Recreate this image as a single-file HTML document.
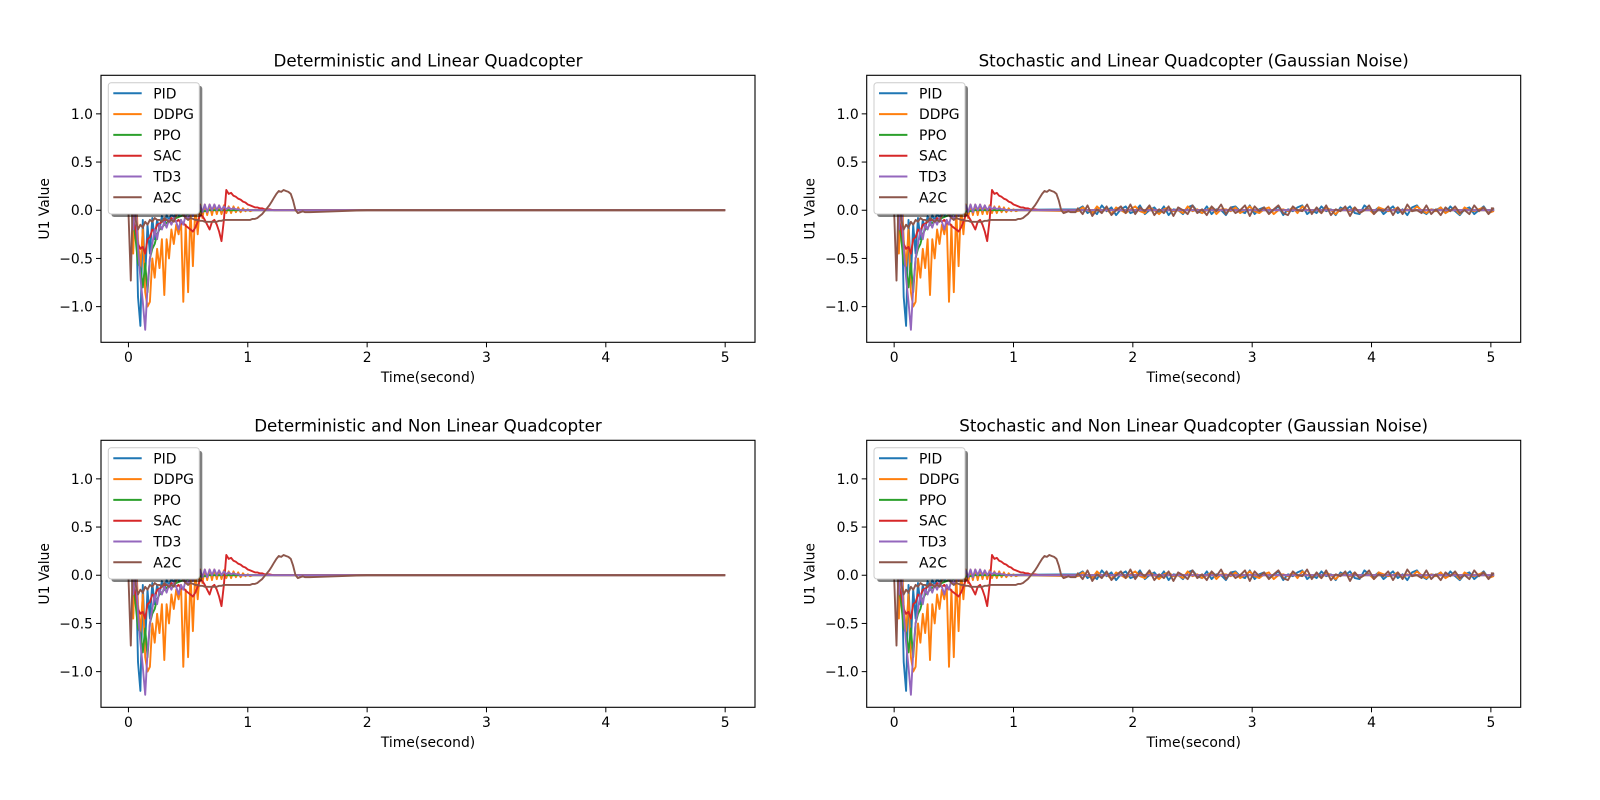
<!DOCTYPE html>
<html><head><meta charset="utf-8"><title>U1 Value comparison</title>
<style>html,body{margin:0;padding:0;background:#fff;}svg{display:block;font-family:"DejaVu Sans","Liberation Sans",sans-serif;}</style>
</head><body>
<svg id="fig" width="1600" height="800" viewBox="0 0 1600 800" xmlns="http://www.w3.org/2000/svg"></svg>
<script>
// ---- data ----
const seriesNames = ["PID","DDPG","PPO","SAC","TD3","A2C"];
const seriesColors = ["#1f77b4","#ff7f0e","#2ca02c","#d62728","#9467bd","#8c564b"];
const panelTitles = ["Deterministic and Linear Quadcopter","Stochastic and Linear Quadcopter (Gaussian Noise)","Deterministic and Non Linear Quadcopter","Stochastic and Non Linear Quadcopter (Gaussian Noise)"];
const panelStochastic = [false,true,false,true];
const xTicks = [0,1,2,3,4,5];
const yTicks = [-1.0,-0.5,0.0,0.5,1.0];
const yTickLabels = ["\u22121.0","\u22120.5","0.0","0.5","1.0"];
const earlyStep = 0.02;
const pidEarly = [0,0.3,-0.4,0.2,-0.9,-1.2,-0.1,-0.7,-0.15,-0.45,-0.08,-0.3,-0.1,-0.2,-0.06,-0.15,-0.05,-0.1,-0.04,-0.07,-0.03,-0.05,-0.03,-0.04,-0.02,-0.03,-0.02,-0.02,-0.01,-0.01,0];
const ddpgEarly = [0,0.5,-0.45,0.3,-0.3,-0.6,-0.2,-0.85,-1.0,-0.95,-0.5,-0.7,-0.4,-0.6,-0.3,-0.88,-0.3,-0.5,-0.2,-0.35,-0.15,-0.25,-0.1,-0.95,-0.15,-0.85,0.02,-0.58,0.05,-0.25,0.06,-0.08,0.06,-0.05,0.06,-0.05,0.06,-0.04,0.05,-0.04,0.05,-0.03,0.04,-0.03,0.04,-0.02,0.03,-0.02,0.02,-0.01,0.01,-0.01,0];
const ppoEarly = [0,0.2,-0.1,-0.3,-0.55,-0.6,-0.8,-0.55,-0.85,-0.5,-0.4,-0.35,-0.25,-0.2,-0.18,-0.15,-0.13,-0.12,-0.1,-0.1,-0.08,-0.07,-0.06,-0.05,-0.05,-0.04,-0.03,-0.03,-0.02,-0.02,-0.01,-0.01,-0.01,0];
const sacEarly = [0,0.3,-0.1,-0.2,-0.35,-0.4,-0.38,-0.45,-0.3,-0.28,-0.2,-0.22,-0.15,-0.14,-0.12,-0.1,-0.1,-0.12,-0.08,-0.1,-0.12,-0.1,-0.14,-0.13,-0.16,-0.18,-0.2,-0.22,-0.18,-0.12,-0.05,-0.06,-0.1,-0.15,-0.2,-0.12,-0.1,-0.15,-0.22,-0.32,-0.1,0.21,0.17,0.18,0.15,0.14,0.12,0.11,0.09,0.08,0.06,0.05,0.04,0.03,0.03,0.02,0.02,0.01,0.01,0.01,0.005,0];
const td3Early = [0,0.4,-0.2,0.1,-0.4,-0.7,-0.95,-1.24,-0.8,-0.5,-0.35,-0.2,-0.3,-0.15,-0.2,-0.12,-0.18,-0.1,-0.15,-0.08,-0.12,-0.2,-0.1,-0.15,-0.05,-0.1,0.0,-0.06,0.04,-0.03,0.05,-0.02,0.06,-0.02,0.06,0,0.06,0,0.05,0,0.04,0.01,0.03,0.01,0.02,0.01,0.01,0];
const a2cEarly = [0,-0.73,0.3,-0.1,-0.2,-0.15,-0.18,-0.12,-0.15,-0.1,-0.12,-0.08,-0.1,-0.1,-0.12,-0.08,-0.1,-0.12,-0.1,-0.12,-0.05,-0.03,-0.02,-0.05,-0.08,-0.1,-0.08,-0.09,-0.1,-0.1,-0.11,-0.11,-0.12,-0.12,-0.12,-0.12,-0.12,-0.12,-0.11,-0.11,-0.1,-0.1,-0.1,-0.1,-0.1,-0.1,-0.1,-0.1,-0.1,-0.1,-0.1,-0.1,-0.09,-0.09,-0.08,-0.06,-0.04,-0.01,0.02,0.05,0.09,0.13,0.17,0.2,0.19,0.21,0.2,0.19,0.17,0.1,0,-0.03,-0.02,-0.01,-0.02,-0.02,-0.02];
const detTailT = [2.0,5.0];
const detTailV = [0,0];
const noiseStart = 1.54, noiseStep = 0.04;
const noiseBrownPct = [2,-4,5,-6,1,-3,4,-5,0,4,-3,6,-4,3,-1,5,-5,1,-3,4,-6,3,0,-4,5,-3,1,-5,4,-1,6,-4,3,-3,0,5,-6,4,-1,3,-4,1,5,-3,-5,4,0,-1,6,-4,3,-3,5,-5,1,-1,4,-6,3,-3,0,5,-4,1,-1,4,-5,3,-4,6,-1,0,-3,5,-4,1,-5,3,-1,4,-3,0,-4,5,-1,3,-4];
const noiseBluePct = [1,4,-3,0,-4,5,-1,3,-5,1,4,-3,-1,5,-4,0,3,-3,4,-5,1,0,-4,3,5,-1,-3,4,-4,1,0,-5,3,4,-1,-3,5,-4,1,3,-3,0,4,-5,1,-1,3,5,-4,0,-3,4,-1,1,-5,3,0,4,-3,-4,5,1,-1,3,-4,0,4,-3,1,-5,3,5,-1,-4,1,0,3,-3,4,-1,-5,1,3,-4,0,4,-3];
const noiseOrangePct = [-1,3,0,-3,4,-1,1,-4,3,0,-3,1,4,-1,-3,3,0,-4,1,3,-1,0,-3,4,-1,1,-3,0,3,-4,1,1,-1,3,-3,0,4,-1,-3,1,3,-4,0,1,-1,3,-3,4,0,-1,1,-3,3,0,-4,1,1,-1,3,-3,0,1,-4,3,1,-1,0,3,-3,1,-1,4,0,-3,1,-1,3,-3,0,1,-4,3,0,-1,1,3,-3];
const noiseFlatPct = [0,0];
const earlyData = [pidEarly,ddpgEarly,ppoEarly,sacEarly,td3Early,a2cEarly];
const noiseData = [noiseBluePct,noiseOrangePct,noiseFlatPct,noiseFlatPct,noiseFlatPct,noiseBrownPct];

// ---- layout ----
const NS = "http://www.w3.org/2000/svg";
const svg = document.getElementById("fig");
function el(tag, attrs, parent){ const e=document.createElementNS(NS,tag); for(const k in attrs) e.setAttribute(k,attrs[k]); (parent||svg).appendChild(e); return e; }
const panels = [{l:101,t:75.3},{l:866.7,t:75.3},{l:101,t:440.3},{l:866.7,t:440.3}];
const PW = 654, PH = 267;
const xMin = -0.23, xMax = 5.25, yMin = -1.37, yMax = 1.40;

panels.forEach((p, pi) => {
  const xs = v => p.l + (v - xMin) / (xMax - xMin) * PW;
  const ys = v => p.t + (yMax - v) / (yMax - yMin) * PH;
  const g = el("g", {});
  
  
  const cp = el("clipPath", {id:"clip"+pi}, g);
  el("rect", {x:p.l, y:p.t, width:PW, height:PH}, cp);
  const lines = el("g", {"clip-path":"url(#clip"+pi+")"}, g);
  
  
  earlyData.forEach((arr, si) => {
    const pts = arr.map((v,i)=>[i*earlyStep, v]);
    const lastT = (arr.length-1)*earlyStep;
    if (panelStochastic[pi]) {
      const nz = noiseData[si];
      const n = Math.round((5 - noiseStart)/noiseStep) + 1;
      for (let i=0;i<n;i++){ const t=noiseStart+i*noiseStep; if(t>lastT) pts.push([t, nz[i % nz.length]/100]); }
      pts.push([5.0, nz[0]/100]);
    } else {
      detTailT.forEach((t,i)=>{ if(t>lastT) pts.push([t, detTailV[i]]); });
    }
    const d = pts.map((q,i)=>(i?"L":"M")+xs(q[0]).toFixed(1)+","+ys(q[1]).toFixed(1)).join("");
    const path = el("path", {d:d, fill:"none", stroke:seriesColors[si], "stroke-width":1.9, "stroke-linejoin":"round"}, lines);
    
    
  });
  const frame = el("rect", {x:p.l, y:p.t, width:PW, height:PH, fill:"none", stroke:"#000", "stroke-width":1.1}, g);
  
  
  xTicks.forEach(v => {
    const x = xs(v);
    el("line", {x1:x, x2:x, y1:p.t+PH, y2:p.t+PH+5, stroke:"#000", "stroke-width":1}, g);
    const tx = el("text", {x:x, y:p.t+PH+19.5, "text-anchor":"middle", "font-size":13.9}, g);
    tx.textContent = String(v);
    
    
  });
  yTicks.forEach((v, i) => {
    const y = ys(v);
    el("line", {x1:p.l-5, x2:p.l, y1:y, y2:y, stroke:"#000", "stroke-width":1}, g);
    const ty = el("text", {x:p.l-8, y:y+5, "text-anchor":"end", "font-size":13.9}, g);
    ty.textContent = yTickLabels[i];
    
    
  });
  const xl = el("text", {x:p.l+PW/2, y:p.t+PH+39.5, "text-anchor":"middle", "font-size":13.9}, g);
  xl.textContent = "Time(second)";
  
  
  const yl = el("text", {x:0, y:0, "text-anchor":"middle", "font-size":13.9, transform:"translate("+(p.l-52)+","+(p.t+PH/2)+") rotate(-90)"}, g);
  yl.textContent = "U1 Value";
  
  
  const tt = el("text", {x:p.l+PW/2, y:p.t-8.6, "text-anchor":"middle", "font-size":16.7}, g);
  tt.textContent = panelTitles[pi];
  
  
  const lg = el("g", {}, g);
  
  
  const lx = p.l + 7.3, ly = p.t + 7.4, lw = 91, lh = 131.3;
  el("rect", {x:lx+3, y:ly+3, width:lw, height:lh, rx:3, fill:"#000", "fill-opacity":0.5}, lg);
  el("rect", {x:lx, y:ly, width:lw, height:lh, rx:3, fill:"#fff", "fill-opacity":1, stroke:"#cccccc", "stroke-width":1}, lg);
  seriesNames.forEach((nm, si) => {
    const cy = ly + 10.6 + si*20.8;
    const ent = el("g", {}, lg);
    
    
    el("line", {x1:lx+5, x2:lx+33.4, y1:cy, y2:cy, stroke:seriesColors[si], "stroke-width":2}, ent);
    const t = el("text", {x:lx+45, y:cy+5, "font-size":13.9}, ent);
    t.textContent = nm;
  });
});
</script>
</body></html>
